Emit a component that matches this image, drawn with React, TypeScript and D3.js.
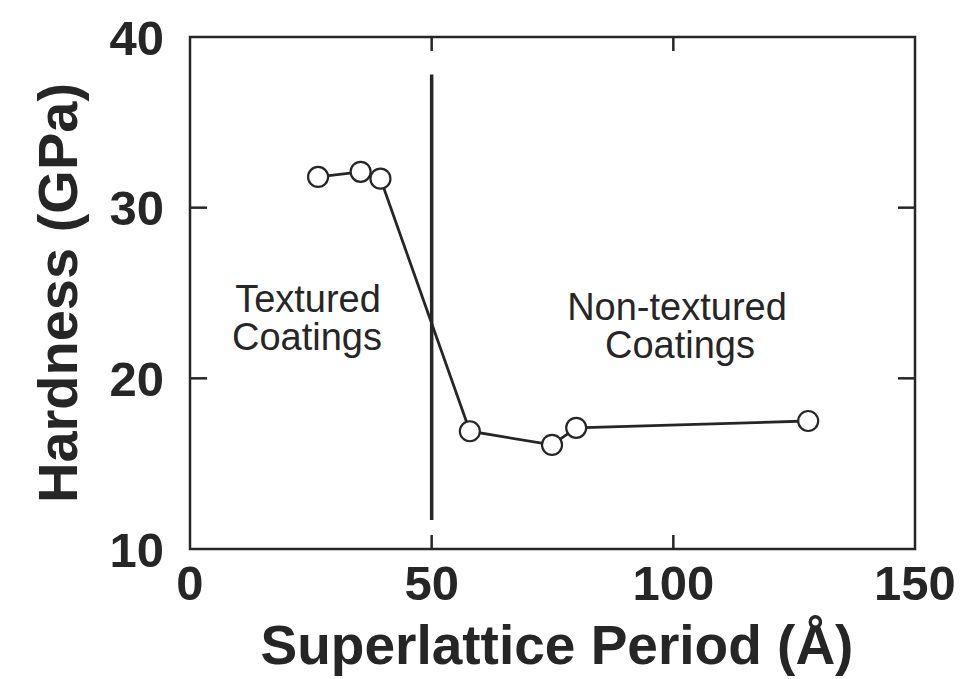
import React from "react"
import * as d3 from "d3"

// superlattice period (Å) and hardness (GPa)
const period = [26.5, 35.3, 39.4, 57.9, 74.9, 79.9, 127.9]
const hardness = [31.8, 32.1, 31.7, 16.9, 16.1, 17.1, 17.5]

const xTicks = [0, 50, 100, 150]
const yTicks = [10, 20, 30, 40]
const innerXTicks = [50, 100]
const innerYTicks = [20, 30]

// boundary between textured / non-textured coatings
const boundaryX = 50
const boundaryY = [37.8, 11.7]

const W = 975
const H = 679
const ink = "#262626"
const font = "'Liberation Sans', Arial, Helvetica, sans-serif"

export default function App() {
  const x = d3.scaleLinear().domain([0, 150]).range([190, 915])
  const y = d3.scaleLinear().domain([10, 40]).range([549, 37])

  const line = d3.line<number>()
    .x((d, i) => x(period[i]))
    .y(d => y(d))

  const [x0, x1] = x.range()
  const [y0, y1] = y.range()

  return (
    <svg width={W} height={H} style={{ position: "absolute", left: 0, top: 0, background: "#fff" }}>
      {/* frame */}
      <rect x={x0} y={y1} width={x1 - x0} height={y0 - y1} fill="none" stroke={ink} strokeWidth={2.5} />

      {/* inward ticks */}
      {innerYTicks.map(t => (
        <g key={"yt" + t} stroke={ink} strokeWidth={2.5}>
          <line x1={x0} x2={x0 + 17} y1={y(t)} y2={y(t)} />
          <line x1={x1} x2={x1 - 17} y1={y(t)} y2={y(t)} />
        </g>
      ))}
      {innerXTicks.map(t => (
        <g key={"xt" + t} stroke={ink} strokeWidth={2.5}>
          <line x1={x(t)} x2={x(t)} y1={y0} y2={y0 - 14} />
          <line x1={x(t)} x2={x(t)} y1={y1} y2={y1 + 14} />
        </g>
      ))}

      {/* tick labels */}
      {yTicks.map(t => (
        <text key={"yl" + t} x={164} y={y(t)} dy="0.36em" textAnchor="end"
          fontFamily={font} fontWeight="bold" fontSize={49} fill={ink}>{t}</text>
      ))}
      {xTicks.map(t => (
        <text key={"xl" + t} x={x(t)} y={600} textAnchor="middle"
          fontFamily={font} fontWeight="bold" fontSize={49} fill={ink}>{t}</text>
      ))}

      {/* axis titles */}
      <text x={557} y={664} textAnchor="middle" fontFamily={font} fontWeight="bold" fontSize={55} fill={ink}>
        Superlattice Period (Å)
      </text>
      <text transform={`translate(77, 293) rotate(-90)`} textAnchor="middle" fontFamily={font} fontWeight="bold" fontSize={56} fill={ink}>
        Hardness (GPa)
      </text>

      {/* boundary line */}
      <line x1={x(boundaryX)} x2={x(boundaryX)} y1={y(boundaryY[0])} y2={y(boundaryY[1])} stroke={ink} strokeWidth={3.5} />

      {/* data */}
      <path d={line(hardness) || ""} fill="none" stroke={ink} strokeWidth={2.8} />
      {hardness.map((d, i) => (
        <circle key={i} cx={x(period[i])} cy={y(d)} r={10} fill="#fff" stroke={ink} strokeWidth={2.2} />
      ))}

      {/* region annotations */}
      <g fontFamily={font} fontSize={38} fill={ink} textAnchor="middle">
        <text x={308} y={312}>Textured</text>
        <text x={307} y={350}>Coatings</text>
        <text x={677} y={320}>Non-textured</text>
        <text x={680} y={358}>Coatings</text>
      </g>
    </svg>
  )
}
